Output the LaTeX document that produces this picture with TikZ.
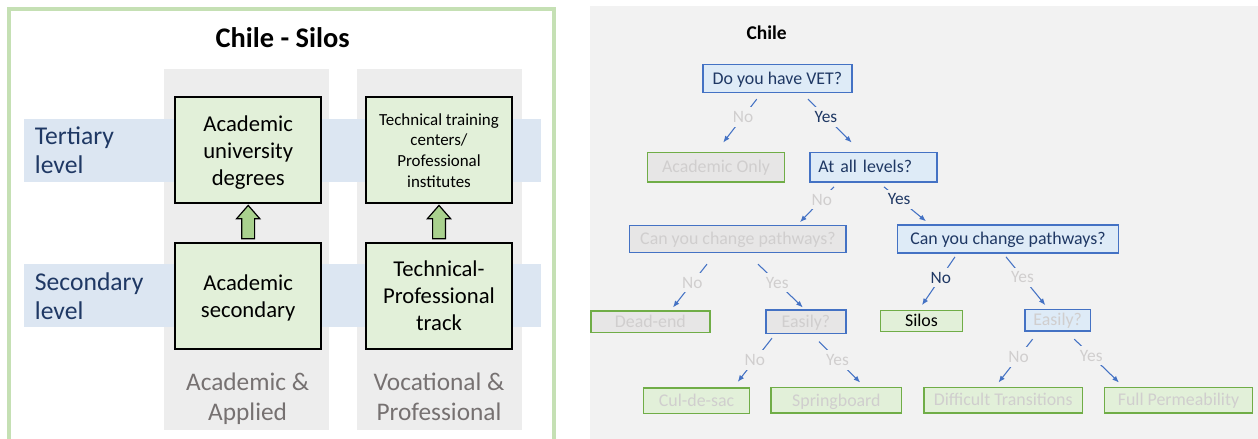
\documentclass[tikz,border=0pt]{standalone}
\usepackage{fontspec}
\setmainfont{Carlito}
\usetikzlibrary{positioning, calc, arrows.meta}

\definecolor{navy}{HTML}{1F3864}
\definecolor{boxgreen}{HTML}{E2F0D9}
\definecolor{arrowgreen}{HTML}{A9D18E}
\definecolor{framegreen}{HTML}{C5E0B4}
\definecolor{colgrey}{HTML}{EDEDED}
\definecolor{bandblue}{HTML}{DCE6F2}
\definecolor{trackgrey}{HTML}{767171}
\definecolor{panelgrey}{HTML}{F2F2F2}
\definecolor{qblue}{HTML}{DEEBF7}
\definecolor{qborder}{HTML}{4472C4}
\definecolor{faded}{HTML}{D0CECE}
\definecolor{okgreen}{HTML}{70AD47}
\definecolor{offgrey}{HTML}{E7E6E6}

\begin{document}
\begin{tikzpicture}[x=0.75pt, y=-0.75pt,
	level/.style={anchor=north west, align=left, inner sep=0pt, text=navy,
	              font=\fontsize{19.2}{21.75}\selectfont},
	stage/.style={draw, line width=1.5pt, fill=boxgreen, align=center, inner sep=0pt,
	              minimum width=109.5pt, minimum height=79.5pt, text depth=0pt,
	              font=\fontsize{17}{20.2}\selectfont},
	track/.style={anchor=north, align=center, inner sep=0pt, text=trackgrey,
	              font=\fontsize{19}{22.5}\selectfont},
	lift/.pic={\draw[fill=arrowgreen, line width=0.9pt]
	              (-6.4,0) -- (-6.4,-20) -- (-11.6,-20) -- (0,-33.3) -- (11.6,-20) -- (6.4,-20) -- (6.4,0) -- cycle;},
	quest/.style={draw=qborder, fill=qblue, line width=1.2pt, inner sep=0pt, text=navy,
	              text height=9.6pt, text depth=1pt, font=\fontsize{13.4}{16}\selectfont},
	questoff/.style={quest, text=faded},
	result/.style={draw=okgreen, fill=boxgreen, line width=1.2pt, inner sep=0pt, text=faded,
	              text height=9.6pt, text depth=1pt, font=\fontsize{13.4}{16}\selectfont},
	flow/.style={draw=qborder, line width=0.8pt, -{Latex[length=5pt, width=4pt]}},
	answer/.style={fill=panelgrey, inner sep=3pt, text=faded, font=\fontsize{13}{15}\selectfont},
	answeron/.style={answer, text=navy}]
	\useasboundingbox (0,0) rectangle (1258,439);

	% Chile - Silos
	\draw[framegreen, line width=2.6pt] (9,9) rectangle (554,460);
	\node[anchor=base, font=\bfseries\fontsize{21.3}{25}\selectfont] (silotitle) at (282.6,47.7) {Chile - Silos};
	\fill[colgrey] (164,69) rectangle (329.2,430);
	\fill[colgrey] (356.7,69) rectangle (522.4,430);
	\fill[bandblue] (23.6,119.3) rectangle (541,182);
	\fill[bandblue] (23.6,264) rectangle (541,326.7);
	\node[level] (tertiary) at (34.7,127) {Tertiary\\level};
	\node[level] (secondary) at (34.7,272) {Secondary\\level};
	\node[stage] (acuni) at (248.2,150.3) {Academic\\university\\degrees};
	\node[stage, font=\fontsize{12.7}{15.5}\selectfont] (techcent) at (439,150.3) {Technical training\\centers/\\Professional\\institutes};
	\node[stage] (acsec) at (248.2,295.7) {Academic\\secondary};
	\node[stage] (techprof) at (439,295.7) {Technical-\\Professional\\track};
	\pic at ($(acsec.north)+(0,-3)$) {lift};
	\pic at ($(techprof.north)+(0,-3)$) {lift};
	\node[track] (acapp) at (247.6,372.7) {Academic \&\\Applied};
	\node[track] (vocprof) at (439,372.7) {Vocational \&\\Professional};

	% Chile decision tree
	\fill[panelgrey] (590,6) rectangle (1258,439);
	\node[anchor=base, font=\bfseries\fontsize{14.6}{17}\selectfont] (treetitle) at (766.6,39.3) {Chile};
	\node[quest, minimum width=112pt, minimum height=21pt] (vet) at (777.4,78.3) {Do you have VET?};
	\node[result, fill=offgrey, minimum width=103pt, minimum height=22.3pt] (aconly) at (716,167.2) {Academic Only};
	\node[quest, minimum height=22.3pt, text width=82.4pt, inner xsep=6.4pt, align=left] (alllev) at (873.4,167.2) {At all levels?};
	\node[questoff, fill=offgrey, minimum width=162.5pt, minimum height=20pt] (changel) at (737.9,239) {Can you change pathways?};
	\node[quest, minimum width=165.75pt, minimum height=20.8pt] (changer) at (1008,238.9) {Can you change pathways?};
	\node[result, fill=offgrey, minimum width=89.3pt, minimum height=16.3pt] (deadend) at (650.4,321.8) {Dead-end};
	\node[questoff, fill=offgrey, minimum width=60.4pt, minimum height=17.5pt] (easyl) at (806,321.7) {Easily?};
	\node[result, text=black, minimum width=61.3pt, minimum height=16pt] (silos) at (921.5,321) {Silos};
	\node[questoff, minimum width=49.1pt, minimum height=16.3pt] (easyr) at (1057.7,320.2) {Easily?};
	\node[result, minimum width=79.5pt, minimum height=19.2pt] (culdesac) at (696.6,400.5) {Cul-de-sac};
	\node[result, minimum width=97.7pt, minimum height=19.2pt] (spring) at (836.4,400.3) {Springboard};
	\node[result, minimum width=118.7pt, minimum height=19.2pt] (difftrans) at (1003.2,400.2) {Difficult Transitions};
	\node[result, minimum width=111.1pt, minimum height=19.2pt] (fullperm) at (1178.5,400.2) {Full Permeability};

	\draw[flow] ($(vet.south)+(-20.6,6)$) -- node[answer, pos=.41] {No} ($(aconly.north)+(7.2,-9)$);
	\draw[flow] ($(vet.south)+(30.5,6)$) -- node[answeron, pos=.41] {Yes} ($(alllev.north)+(-21.7,-9)$);
	\draw[flow] ($(alllev.south)+(-39.4,4)$) -- node[answer, pos=.36] {No} ($(changel.north)+(62.1,-2.7)$);
	\draw[flow] ($(alllev.south)+(10.6,4)$) -- node[answeron, pos=.36] {Yes} ($(changer.north)+(-82,-3)$);
	\draw[flow] ($(changel.south)+(-30.9,11)$) -- node[answer, pos=.43] {No} ($(deadend.north)+(22.6,-2.7)$);
	\draw[flow] ($(changel.south)+(20.1,11)$) -- node[answer, pos=.43] {Yes} ($(easyl.north)+(-3.2,-1.8)$);
	\draw[flow] ($(changer.south)+(-53,3.3)$) -- node[answeron, pos=.43] {No} ($(silos.north)+(0.5,-4.4)$);
	\draw[flow] ($(changer.south)+(-2,3.3)$) -- node[answer, pos=.42] {Yes} ($(easyr.north)+(-12.4,-3.4)$);
	\draw[flow] ($(easyl.south)+(-34,4)$) -- node[answer, pos=.5] {No} ($(culdesac.north)+(41.1,-5)$);
	\draw[flow] ($(easyl.south)+(13,7.4)$) -- node[answer, pos=.45] {Yes} ($(spring.north)+(23.8,-4.2)$);
	\draw[flow] ($(easyr.south)+(-25.1,7.3)$) -- node[answer, pos=.41] {No} ($(difftrans.north)+(-4.7,-4.1)$);
	\draw[flow] ($(easyr.south)+(16.6,7.3)$) -- node[answer, pos=.38] {Yes} ($(fullperm.north)+(-59.5,-4.1)$);
\end{tikzpicture}
\end{document}
